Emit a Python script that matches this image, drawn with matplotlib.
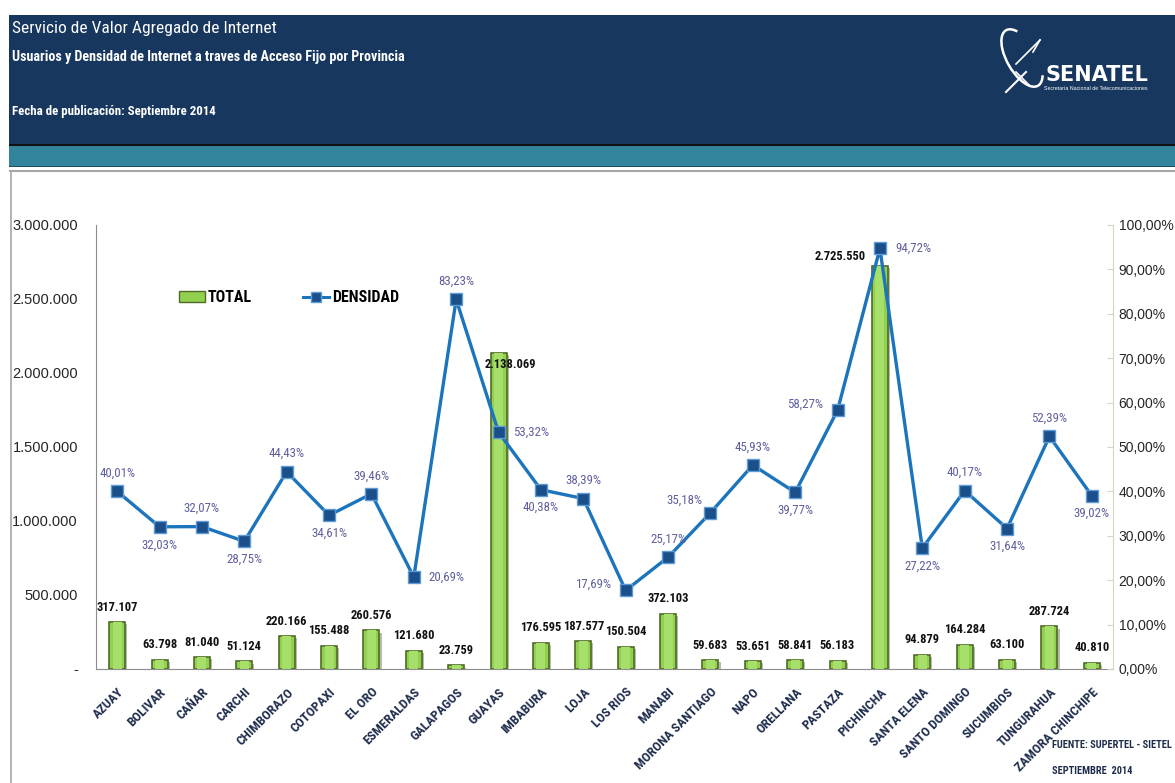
import matplotlib
matplotlib.use("Agg")
import matplotlib.pyplot as plt
import numpy as np
from matplotlib.patches import Rectangle, Patch, Arc
from matplotlib.lines import Line2D
from matplotlib.ticker import FixedLocator, FuncFormatter
import matplotlib.patheffects as pe

# ---------------- data ----------------
provincias = ["AZUAY", "BOLIVAR", "CAÑAR", "CARCHI", "CHIMBORAZO", "COTOPAXI",
              "EL ORO", "ESMERALDAS", "GALAPAGOS", "GUAYAS", "IMBABURA", "LOJA",
              "LOS RIOS", "MANABI", "MORONA SANTIAGO", "NAPO", "ORELLANA",
              "PASTAZA", "PICHINCHA", "SANTA ELENA", "SANTO DOMINGO",
              "SUCUMBIOS", "TUNGURAHUA", "ZAMORA CHINCHIPE"]
total = [317107, 63798, 81040, 51124, 220166, 155488, 260576, 121680, 23759,
         2138069, 176595, 187577, 150504, 372103, 59683, 53651, 58841, 56183,
         2725550, 94879, 164284, 63100, 287724, 40810]
densidad = [40.01, 32.03, 32.07, 28.75, 44.43, 34.61, 39.46, 20.69, 83.23,
            53.32, 40.38, 38.39, 17.69, 25.17, 35.18, 45.93, 39.77, 58.27,
            94.72, 27.22, 40.17, 31.64, 52.39, 39.02]
left_ticks = [0, 500000, 1000000, 1500000, 2000000, 2500000, 3000000]
right_ticks = [0, 10, 20, 30, 40, 50, 60, 70, 80, 90, 100]

# label placement for density values (style only)
dens_pos = ["above", "below", "above", "below", "above", "below", "above",
            "right", "above", "right", "below", "above", "left", "above",
            "aboveleft", "above", "below", "left", "right", "below", "above",
            "below", "above", "below"]

NARROW = ["Roboto Condensed", "Liberation Sans Narrow", "Roboto", "DejaVu Sans"]
plt.rcParams["font.family"] = ["Liberation Sans", "DejaVu Sans"]

W, H = 1175, 783
fig = plt.figure(figsize=(W / 100, H / 100), dpi=100)
fig.patch.set_facecolor("white")

# ---------------- background / header (pixel coordinates) ----------------
bg = fig.add_axes([0, 0, 1, 1], zorder=0)
bg.set_xlim(0, W)
bg.set_ylim(H, 0)
bg.axis("off")

navy = "#17375E"
teal = "#31849B"
bg.add_patch(Rectangle((9, 15), W - 9, 129, facecolor=navy, edgecolor="none"))
bg.add_patch(Rectangle((9, 144), W - 9, 1.5, facecolor="#111111", edgecolor="none"))
bg.add_patch(Rectangle((9, 145.5), W - 9, 20, facecolor=teal, edgecolor="none"))
bg.add_patch(Rectangle((9, 165.5), W - 9, 1, facecolor="#1d4f5e", edgecolor="none"))
# panel border
bg.plot([10, W], [171, 171], color="#A6A6A6", lw=1.5)
bg.plot([10.5, 10.5], [171, H], color="#A6A6A6", lw=1.2)

bg.text(12, 28, "Servicio de Valor Agregado de Internet", color="white",
        fontsize=12.5, family=NARROW, va="center", ha="left")
bg.text(12, 57, "Usuarios y Densidad de Internet a traves de Acceso Fijo por Provincia",
        color="white", fontsize=10.2, fontweight="bold", family=NARROW,
        va="center", ha="left")
bg.text(12, 112, "Fecha de publicación: Septiembre 2014", color="white",
        fontsize=9.3, fontweight="bold", family=NARROW, va="center", ha="left")

# logo
bg.add_patch(Arc((1022, 58), 30, 64, angle=-30, theta1=70, theta2=290,
                 color="white", lw=1.8))
bg.plot([1016, 1040], [64, 40], color="white", lw=1.2)
bg.plot([1040, 1033], [40, 52], color="white", lw=1.2)
bg.plot([1026, 1006], [72, 92], color="white", lw=1.5)
bg.plot([1016, 1030], [72, 86], color="white", lw=1.2)
bg.text(1097, 75, "SENATEL", color="white", fontsize=15, fontweight="bold",
        family=["DejaVu Sans"], ha="center", va="center")
bg.text(1096, 88, "Secretaría Nacional de Telecomunicaciones", color="white",
        fontsize=3.8, ha="center", va="center")

# footer
bg.text(1052, 745, "FUENTE: SUPERTEL - SIETEL", color="#1F2D4D", fontsize=7.5,
        fontweight="bold", family=NARROW, ha="left", va="center")
bg.text(1052, 771, "SEPTIEMBRE  2014", color="#1F2D4D", fontsize=7.5,
        fontweight="bold", family=NARROW, ha="left", va="center")

# ---------------- main chart ----------------
ax_l, ax_r, ax_t, ax_b = 96, 1113, 225, 669
ax = fig.add_axes([ax_l / W, 1 - ax_b / H, (ax_r - ax_l) / W, (ax_b - ax_t) / H],
                  zorder=2)
ax.patch.set_alpha(0)
x = np.arange(len(provincias))

bars = ax.bar(x, total, width=0.38, color="#92D050", edgecolor="#4F6B25",
              linewidth=1.2, zorder=2)
for b in bars:
    b.set_path_effects([pe.SimplePatchShadow(offset=(1.5, -1.5), alpha=0.35),
                        pe.Normal()])
    bx, bw, bh = b.get_x(), b.get_width(), b.get_height()
    ax.add_patch(Rectangle((bx + bw * 0.22, 0), bw * 0.56, bh,
                           facecolor="#A6E06A", edgecolor="none", zorder=2.1))

ax.set_xlim(-0.5, len(provincias) - 0.5)
ax.set_ylim(0, 3000000)
ax.yaxis.set_major_locator(FixedLocator(left_ticks))


def fmt_left(v, p):
    if v == 0:
        return "-"
    return f"{int(v):,}".replace(",", ".")


ax.yaxis.set_major_formatter(FuncFormatter(fmt_left))
ax.tick_params(axis="y", length=0, pad=13, labelsize=10.5, labelcolor="#262626")
ax.set_xticks(x)
ax.set_xticklabels(provincias, rotation=45, ha="right", rotation_mode="anchor",
                   fontsize=9.5, fontweight="bold", family=NARROW, color="#1F2D4D")
ax.tick_params(axis="x", length=0, pad=12)
for s in ["top", "right"]:
    ax.spines[s].set_visible(False)
ax.spines["left"].set_color("#8C8C8C")
ax.spines["bottom"].set_color("#8C8C8C")

# bar value labels
for i, v in enumerate(total):
    lbl = f"{v:,}".replace(",", ".")
    off = (0, 15)
    if provincias[i] == "GUAYAS":
        off = (12, -12)
    elif provincias[i] == "PICHINCHA":
        off = (-40, 9)
    ax.annotate(lbl, (x[i], v), xytext=off, textcoords="offset pixels",
                ha="center", va="center", fontsize=9, fontweight="bold",
                family=NARROW, color="#111111", zorder=5)

# density line on secondary axis
ax2 = ax.twinx()
ax2.set_zorder(3)
ax2.set_ylim(0, 100)
ax2.plot(x, densidad, color="#1C75BC", lw=2.4, marker="s", markersize=8,
         markerfacecolor="#1B4F8A", markeredgecolor="#5C9BD6",
         markeredgewidth=1.0, zorder=4)
ax2.yaxis.set_major_locator(FixedLocator(right_ticks))
ax2.yaxis.set_major_formatter(FuncFormatter(lambda v, p: f"{v:.2f}%".replace(".", ",")))
ax2.tick_params(axis="y", direction="in", length=4, color="#D0D8C0", pad=4,
                labelsize=10, labelcolor="#262626")
for s in ["top", "left", "bottom"]:
    ax2.spines[s].set_visible(False)
ax2.spines["right"].set_color("#D0D8C0")

offs = {"above": (0, 18), "below": (0, -18), "right": (33, 0),
        "left": (-32, 6), "aboveleft": (-26, 13)}
for i, d in enumerate(densidad):
    lbl = f"{d:.2f}%".replace(".", ",")
    ax2.annotate(lbl, (x[i], d), xytext=offs[dens_pos[i]],
                 textcoords="offset pixels", ha="center", va="center",
                 fontsize=9.3, family=NARROW, color="#5F5F9F", zorder=6)

# legend
handles = [Patch(facecolor="#92D050", edgecolor="#4F6B25", label="TOTAL"),
           Line2D([0], [0], color="#1C75BC", lw=2.2, marker="s", markersize=7,
                  markerfacecolor="#1B4F8A", markeredgecolor="#5C9BD6",
                  label="DENSIDAD")]
leg = ax2.legend(handles=handles, ncol=2, frameon=False, loc="center",
                 bbox_to_anchor=(0.19, 0.836), columnspacing=3.2,
                 handlelength=1.6, handletextpad=0.2,
                 prop={"family": NARROW, "weight": "bold", "size": 11.5})

fig.savefig("out.png", dpi=100, facecolor="white")
